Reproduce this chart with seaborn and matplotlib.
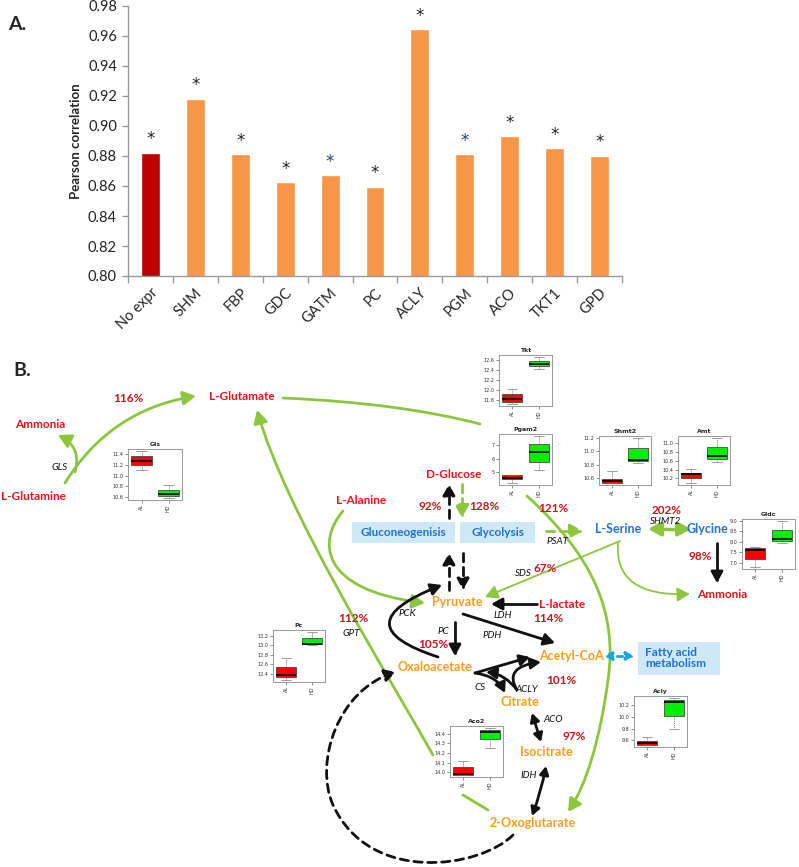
import numpy as np
import pandas as pd
import matplotlib
matplotlib.use('Agg')
import matplotlib.pyplot as plt
import seaborn as sns
from matplotlib.path import Path
from matplotlib.patches import FancyArrowPatch, Rectangle

sns.set_theme(style="white")
plt.rcParams['font.family'] = ['Lato', 'DejaVu Sans']

# ---- panel A data ----
genes = ['No expr', 'SHM', 'FBP', 'GDC', 'GATM', 'PC', 'ACLY', 'PGM', 'ACO', 'TKT1', 'GPD']
pearson = [0.882, 0.918, 0.881, 0.8625, 0.867, 0.8595, 0.9645, 0.881, 0.893, 0.885, 0.880]
bar_colors = ['#c00000'] + ['#f79646'] * 10
star_colors = ['#222222', '#222222', '#222222', '#222222', '#1f3c64', '#222222',
               '#222222', '#1f3c64', '#222222', '#222222', '#222222']
yticks_a = [0.80, 0.82, 0.84, 0.86, 0.88, 0.90, 0.92, 0.94, 0.96, 0.98]

# ---- panel B box plot summaries: [low whisker, q1, median, q3, high whisker] ----
gls_al = [11.10, 11.19, 11.28, 11.37, 11.46]
gls_hd = [10.58, 10.62, 10.66, 10.74, 10.82]
tkt_al = [11.72, 11.77, 11.82, 11.93, 12.03]
tkt_hd = [12.43, 12.48, 12.53, 12.59, 12.67]
pgam2_al = [4.2, 4.5, 4.6, 4.8, 4.8]
pgam2_hd = [5.2, 5.8, 6.5, 7.1, 7.7]
shmt2_al = [10.52, 10.53, 10.55, 10.59, 10.70]
shmt2_hd = [10.83, 10.85, 10.87, 11.04, 11.20]
amt_al = [10.09, 10.20, 10.30, 10.32, 10.42]
amt_hd = [10.57, 10.65, 10.70, 10.92, 11.12]
gldc_al = [6.8, 7.2, 7.6, 7.7, 7.75]
gldc_hd = [7.95, 8.05, 8.15, 8.55, 9.0]
pc_al = [12.27, 12.33, 12.38, 12.55, 12.73]
pc_hd = [13.00, 13.02, 13.03, 13.16, 13.28]
aco2_al = [13.97, 13.97, 13.98, 14.05, 14.12]
aco2_hd = [14.25, 14.34, 14.42, 14.44, 14.46]
acly_al = [9.52, 9.53, 9.56, 9.59, 9.65]
acly_hd = [9.80, 10.02, 10.25, 10.29, 10.32]

W, H = 799, 867
fig = plt.figure(figsize=(W / 100, H / 100), dpi=100, facecolor='white')

# diagram canvas in pixel coordinates
axB = fig.add_axes([0, 0, 1, 1])
axB.set_xlim(0, W)
axB.set_ylim(H, 0)
axB.axis('off')
axB.patch.set_alpha(0)

# ---------------- Panel A ----------------
axA = fig.add_axes([128 / W, 1 - 276 / H, (622 - 128) / W, 270 / H])
df = pd.DataFrame({'gene': genes, 'r': pearson})
sns.barplot(data=df, x='gene', y='r', hue='gene', palette=bar_colors, width=0.42,
            saturation=1, legend=False, ax=axA)
axA.set_ylim(0.80, 0.98)
axA.set_xlim(-0.5, len(genes) - 0.5)
axA.set_yticks(yticks_a)
axA.set_yticklabels([f'{v:.2f}' for v in yticks_a], fontsize=10.5)
axA.set_xticks(range(len(genes)))
axA.set_xticklabels(genes, rotation=45, ha='right', va='top', rotation_mode='anchor',
                    fontsize=10.5)
axA.set_xticks(np.arange(-0.5, len(genes), 1), minor=True)
axA.tick_params(axis='x', which='major', length=0, pad=7)
axA.tick_params(axis='x', which='minor', bottom=True, length=5, color='#999999', width=1)
axA.tick_params(axis='y', left=True, length=4, color='#999999', width=1, pad=4, colors='#222222')
axA.set_xlabel('')
axA.set_ylabel('Pearson correlation', fontweight='bold', fontsize=9.5, labelpad=4)
for s in ['top', 'right']:
    axA.spines[s].set_visible(False)
for s in ['left', 'bottom']:
    axA.spines[s].set_color('#999999')
    axA.spines[s].set_linewidth(1)
for i, (v, c) in enumerate(zip(pearson, star_colors)):
    axA.text(i, v + 0.003, '*', ha='center', va='bottom', fontsize=12, color=c,
             fontfamily='DejaVu Sans')
axA.patch.set_alpha(0)

fig.text(17 / W, 1 - 25 / H, 'A.', fontsize=14, fontweight='bold', ha='center', va='center')
fig.text(22 / W, 1 - 370 / H, 'B.', fontsize=14, fontweight='bold', ha='center', va='center')

# ---------------- Panel B ----------------
GREEN = '#8cc63f'
RED = '#e3141b'
PCT = '#c8141b'
ORANGE = '#f99d1c'
BLUE = '#1e74d0'
BOXBLUE = '#cfe8f8'
BLK = '#111111'


def arrow(verts, codes=None, color=GREEN, lw=2.0, ls='-', style='-|>', ms=14, hl=0.55, hw=0.3):
    if codes is None:
        codes = [Path.MOVETO] + [Path.LINETO] * (len(verts) - 1)
    if style == '-':
        st = '-'
    else:
        st = f'{style},head_length={hl},head_width={hw}'
    p = FancyArrowPatch(path=Path(verts, codes), arrowstyle=st, mutation_scale=ms,
                        color=color, lw=lw, linestyle=ls, zorder=2)
    axB.add_patch(p)


C3 = [Path.MOVETO, Path.CURVE3, Path.CURVE3]
C4 = [Path.MOVETO, Path.CURVE4, Path.CURVE4, Path.CURVE4]
C44 = [Path.MOVETO] + [Path.CURVE4] * 6

# green arrows
arrow([(65, 483), (110, 410), (196, 396)], C3)
arrow([(75, 472), (82, 447), (58, 435)], C3)
arrow([(283, 398), (400, 403), (480, 424)], C3, style='-')
arrow([(527, 496), (592, 555), (618, 612), (608, 680), (600, 740), (586, 785), (568, 812)], C44)
arrow([(462, 484), (462, 518)], ls=(0, (3, 2)))
arrow([(546, 531), (583, 531)], ls=(0, (3, 2)))
arrow([(648, 529), (691, 529)], style='<|-|>', lw=2.5)
arrow([(618, 543), (614, 597), (690, 594)], C3, lw=1.3)
arrow([(620, 541), (485, 597)], lw=1.3)
arrow([(343, 511), (318, 540), (318, 590), (425, 603)], C4)
arrow([(488, 810), (463, 795)], style='-')
arrow([(433, 755), (385, 670), (285, 510), (257, 410)], C4)

# black arrows
arrow([(449, 518), (449, 484)], color=BLK, ls=(0, (3, 2)), ms=12)
arrow([(449, 590), (449, 553)], color=BLK, ls=(0, (3, 2)), ms=12)
arrow([(463, 553), (463, 590)], color=BLK, ls=(0, (3, 2)), ms=12)
arrow([(717, 543), (717, 583)], color=BLK, ms=12)
arrow([(537, 604), (491, 604)], color=BLK, ms=12)
arrow([(438, 657), (340, 625), (442, 585)], C3, color=BLK, ms=12)
arrow([(455, 622), (455, 656)], color=BLK, ms=12)
arrow([(463, 614), (555, 643)], color=BLK, ms=12)
arrow([(475, 673), (530, 657)], color=BLK, ms=11)
arrow([(475, 673), (497, 676), (505, 693)], C3, color=BLK, ms=11)
arrow([(517, 690), (503, 667), (541, 662)], C3, color=BLK, ms=11)
arrow([(517, 690), (505, 674), (486, 672)], C3, color=BLK, ms=11)
arrow([(532, 713), (541, 742)], color=BLK, style='<|-|>', ms=9)
arrow([(546, 766), (541, 792), (532, 816)], C3, color=BLK, style='<|-|>', ms=9)

# dashed loop 2-Oxoglutarate -> Oxaloacetate
arrow([(513, 835), (480, 868), (370, 885), (333, 805), (314, 762), (338, 690), (396, 672)],
      [Path.MOVETO] + [Path.CURVE4] * 6, color=BLK, ls=(0, (3, 2)), ms=12)

# fatty acid double arrow
arrow([(604, 656), (634, 656)], color='#1aa3e8', style='<|-|>', ls=(0, (2, 1.5)), ms=8)

# boxes
axB.add_patch(Rectangle((352, 522), 103, 21, fc=BOXBLUE, ec='none', zorder=1))
axB.add_patch(Rectangle((460, 522), 75, 21, fc=BOXBLUE, ec='none', zorder=1))
axB.add_patch(Rectangle((638, 642), 82, 33, fc=BOXBLUE, ec='none', zorder=1))
axB.text(403.5, 532.5, 'Gluconeogenisis', color=BLUE, fontsize=8.5, fontweight='bold',
         ha='center', va='center', zorder=3)
axB.text(497.5, 532.5, 'Glycolysis', color=BLUE, fontsize=8.5, fontweight='bold',
         ha='center', va='center', zorder=3)
axB.text(645, 658, 'Fatty acid\nmetabolism', color=BLUE, fontsize=8.5, fontweight='bold',
         ha='left', va='center', linespacing=1.0, zorder=3)


def label(x, y, s, color, weight='bold', size=8.5, style='normal'):
    axB.text(x, y, s, color=color, fontsize=size, fontweight=weight, fontstyle=style,
             ha='center', va='center', zorder=3)


red_names = [('L-Glutamate', 242, 396), ('Ammonia', 40, 425), ('L-Glutamine', 33, 497),
             ('D-Glucose', 454, 474), ('L-Alanine', 361, 501), ('Ammonia', 722, 595),
             ('L-lactate', 562, 604)]
for s, x, y in red_names:
    label(x, y, s, RED)
orange_names = [('Pyruvate', 457, 602), ('Oxaloacetate', 435, 667), ('Acetyl-CoA', 571, 656),
                ('Citrate', 520, 702), ('Isocitrate', 546, 752), ('2-Oxoglutarate', 533, 823)]
for s, x, y in orange_names:
    label(x, y, s, ORANGE, size=9)
for s, x, y in [('L-Serine', 618, 529), ('Glycine', 707, 529)]:
    label(x, y, s, BLUE, size=9)
pcts = [('116%', 128, 398), ('92%', 430, 507), ('128%', 484, 507), ('121%', 553, 508),
        ('202%', 667, 510), ('98%', 700, 557), ('67%', 545, 568), ('114%', 548, 619),
        ('112%', 353, 618), ('105%', 433, 644), ('101%', 561, 681), ('97%', 574, 736)]
for s, x, y in pcts:
    label(x, y, s, PCT)
enzymes = [('GLS', 60, 467), ('PSAT', 558, 541), ('SHMT2', 666, 521), ('SDS', 523, 573),
           ('LDH', 503, 615), ('PCK', 407, 613), ('GPT', 351, 633), ('PC', 443, 632),
           ('PDH', 492, 635), ('CS', 480, 687), ('ACLY', 527, 689), ('ACO', 553, 720),
           ('IDH', 529, 776)]
for s, x, y in enzymes:
    label(x, y, s, BLK, weight='normal', size=7, style='italic')


# inset box plots
def draw_box(name, rect, al, hd, ticks, fmt):
    x0, y0, x1, y1 = rect
    ax = fig.add_axes([x0 / W, 1 - y1 / H, (x1 - x0) / W, (y1 - y0) / H])
    keys = ['whislo', 'q1', 'med', 'q3', 'whishi']
    stats = [dict(zip(keys, al), label='AL'), dict(zip(keys, hd), label='HD')]
    bp = ax.bxp(stats, widths=0.75, patch_artist=True, showfliers=False,
                medianprops=dict(color='black', lw=1.2),
                whiskerprops=dict(color='#444444', lw=0.5, ls=(0, (1.5, 1.5))),
                capprops=dict(color='#777777', lw=0.5),
                boxprops=dict(lw=0.5, edgecolor='#333333'))
    for patch, c in zip(bp['boxes'], ['#ff0000', '#00ee00']):
        patch.set_facecolor(c)
    lo, hi = min(al + hd), max(al + hd)
    pad = (hi - lo) * 0.04
    ax.set_ylim(lo - pad, hi + pad)
    ax.set_xlim(0.5, 2.5)
    ax.set_yticks(ticks)
    ax.set_yticklabels([fmt.format(t) for t in ticks], fontfamily='DejaVu Sans')
    ax.set_xticks([1, 2])
    ax.set_xticklabels(['AL', 'HD'], rotation=90, fontfamily='DejaVu Sans')
    ax.tick_params(left=True, bottom=True, labelsize=3.5, length=2, width=0.4, pad=1,
                   colors='#333333')
    for s in ax.spines.values():
        s.set_visible(True)
        s.set_color('#999999')
        s.set_linewidth(0.7)
    ax.set_title(name, fontsize=4.5, fontweight='bold', pad=2, fontfamily='DejaVu Sans')
    ax.set_facecolor('white')


draw_box('Gls', (128, 449, 182, 500), gls_al, gls_hd, [10.6, 10.8, 11.0, 11.2, 11.4], '{:.1f}')
draw_box('Tkt', (499, 355, 552, 406), tkt_al, tkt_hd, [11.8, 12.0, 12.2, 12.4, 12.6], '{:.1f}')
draw_box('Pgam2', (499, 434, 552, 485), pgam2_al, pgam2_hd, [5, 6, 7], '{:.0f}')
draw_box('Shmt2', (599, 436, 651, 485), shmt2_al, shmt2_hd, [10.6, 10.8, 11.0, 11.2], '{:.1f}')
draw_box('Amt', (678, 436, 730, 485), amt_al, amt_hd, [10.2, 10.4, 10.6, 10.8, 11.0], '{:.1f}')
draw_box('Gldc', (742, 519, 795, 569), gldc_al, gldc_hd, [7.0, 7.5, 8.0, 8.5, 9.0], '{:.1f}')
draw_box('Pc', (273, 630, 325, 682), pc_al, pc_hd, [12.4, 12.6, 12.8, 13.0, 13.2], '{:.1f}')
draw_box('Aco2', (450, 726, 503, 777), aco2_al, aco2_hd, [14.0, 14.1, 14.2, 14.3, 14.4], '{:.1f}')
draw_box('Acly', (634, 696, 687, 747), acly_al, acly_hd, [9.6, 9.8, 10.0, 10.2], '{:.1f}')

fig.savefig('out.png', dpi=100)
